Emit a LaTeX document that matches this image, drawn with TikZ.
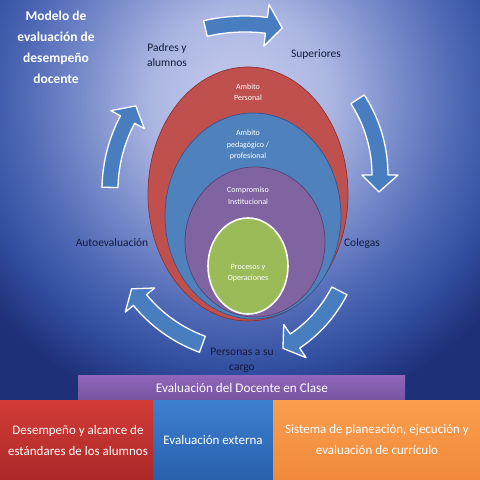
\documentclass[tikz,border=0pt]{standalone}
\usepackage{fontspec}
\setmainfont{Carlito}
\usetikzlibrary{shapes.geometric}
\definecolor{bgA}{RGB}{198,204,236}
\definecolor{bgB}{RGB}{172,182,226}
\definecolor{bgC}{RGB}{118,138,202}
\definecolor{bgD}{RGB}{80,106,182}
\definecolor{bgE}{RGB}{50,78,160}
\definecolor{bgF}{RGB}{30,48,120}
\definecolor{ered}{RGB}{192,80,77}
\definecolor{eredD}{RGB}{140,50,50}
\definecolor{eblue}{RGB}{79,129,189}
\definecolor{eblueD}{RGB}{50,85,140}
\definecolor{epurp}{RGB}{128,100,162}
\definecolor{epurpD}{RGB}{85,65,115}
\definecolor{egreen}{RGB}{155,187,89}
\definecolor{arrowblue}{RGB}{72,126,192}
\definecolor{lblcol}{RGB}{20,28,60}
\definecolor{barT}{RGB}{142,102,188}
\definecolor{barB}{RGB}{120,84,160}
\definecolor{boxRT}{RGB}{210,60,55}
\definecolor{boxRB}{RGB}{172,40,40}
\definecolor{boxBT}{RGB}{62,128,208}
\definecolor{boxBB}{RGB}{40,96,172}
\definecolor{boxOT}{RGB}{250,158,78}
\definecolor{boxOB}{RGB}{240,138,58}
\pgfdeclareradialshading{bgshade}{\pgfpoint{0bp}{0bp}}{color(0bp)=(bgA); color(5bp)=(bgB); color(9bp)=(bgC); color(12bp)=(bgD); color(15bp)=(bgE); color(18bp)=(bgF); color(50bp)=(bgF)}
\newcommand\cycarrow[8]{%
  \pgfmathsetmacro\ra{#3+#6/2}%
  \pgfmathsetmacro\rb{#3-#6/2}%
  \pgfmathsetmacro\rc{#3+#7/2}%
  \pgfmathsetmacro\rd{#3-#7/2}%
  \pgfmathsetmacro\at{#5+#8/#3*57.2958}%
  \filldraw[arrowsty] plot[domain=#4:#5,samples=30] ({#1+\ra*cos(\x)},{#2+\ra*sin(\x)})
    -- ({#1+\rc*cos(#5)},{#2+\rc*sin(#5)})
    -- ({#1+#3*cos(\at)},{#2+#3*sin(\at)})
    -- ({#1+\rd*cos(#5)},{#2+\rd*sin(#5)})
    -- plot[domain=#5:#4,samples=30] ({#1+\rb*cos(\x)},{#2+\rb*sin(\x)}) -- cycle;}
\begin{document}
\begin{tikzpicture}[x=1pt,y=-1pt,
  lbl/.style={font=\fontsize{11.5}{15}\selectfont, text=lblcol, align=center, inner sep=0pt},
  inlbl/.style={font=\fontsize{8}{11.5}\selectfont, text=white, align=center, inner sep=0pt},
  boxtxt/.style={font=\fontsize{13}{21}\selectfont, text=white, align=center, inner sep=0pt},
  arrowsty/.style={fill=arrowblue, draw=white, line width=1.3pt, line join=round},
  ell/.style={ellipse, inner sep=0pt, line width=0.7pt}]
\useasboundingbox (0,0) rectangle (480,480);
\begin{scope}
\clip (0,0) rectangle (480,480);
\shade[shading=bgshade] (-210,-350) rectangle (690,550);
\end{scope}
% ellipses
\node[ell, fill=ered, draw=eredD, minimum width=200pt, minimum height=254pt] (red) at (248,194) {};
\node[ell, fill=eblue, draw=eblueD, minimum width=176pt, minimum height=206pt] (blue) at (253,216) {};
\node[ell, fill=epurp, draw=epurpD, minimum width=140pt, minimum height=150pt] (purple) at (255,242) {};
\node[ell, fill=egreen, draw=white, line width=1.6pt, minimum width=80pt, minimum height=96pt] (green) at (248,266) {};
\node[inlbl] (t1) at (248,92) {Ambito\\Personal};
\node[inlbl] (t2) at (248,145) {Ambito\\pedagógico /\\profesional};
\node[inlbl] (t3) at (248,196) {Compromiso\\Institucional};
\node[inlbl] (t4) at (248,273) {Procesos y\\Operaciones};
% cycle arrows
\cycarrow{245}{200}{176}{-103}{-83}{16}{42}{16}
\cycarrow{241}{175}{139}{-33}{0}{16}{36}{17}
\cycarrow{220}{230}{134}{27}{56}{17}{40}{14}
\cycarrow{252}{208}{145}{110}{140.6}{17}{38}{14}
\cycarrow{260}{190}{150}{181}{208}{16}{38}{16}
% labels
\node[lbl] (padres) at (167,55) {Padres y\\alumnos};
\node[lbl] (sup) at (316,54) {Superiores};
\node[lbl] (auto) at (112,243) {Autoevaluación};
\node[lbl] (coleg) at (362,243) {Colegas};
\node[lbl] (pers) at (242,360) {Personas a su\\cargo};
% title
\node[font=\fontsize{13.5}{21}\selectfont\bfseries, text=white, align=center, inner sep=0pt] (title) at (56,47) {Modelo de\\evaluación de\\desempeño\\docente};
% bar
\shade[top color=barT, bottom color=barB] (78,375) rectangle (405,400);
\node[boxtxt, font=\fontsize{13.2}{16}\selectfont] (bar) at (242,388) {Evaluación del Docente en Clase};
% bottom boxes
\shade[top color=boxRT, bottom color=boxRB] (0,400) rectangle (153,480);
\shade[top color=boxBT, bottom color=boxBB] (153,400) rectangle (273,480);
\shade[top color=boxOT, bottom color=boxOB] (273,400) rectangle (480,480);
\node[boxtxt] (b1) at (78,441) {Desempeño y alcance de\\estándares de los alumnos};
\node[boxtxt] (b2) at (213,440) {Evaluación externa};
\node[boxtxt] (b3) at (377,440) {Sistema de planeación, ejecución y\\evaluación de currículo};
\end{tikzpicture}
\end{document}
